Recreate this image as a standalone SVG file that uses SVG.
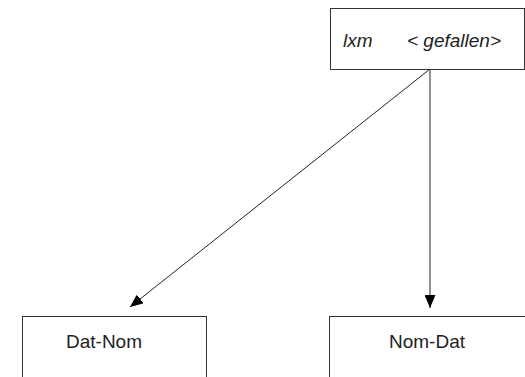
<svg xmlns="http://www.w3.org/2000/svg" width="525" height="377" viewBox="0 0 525 377">
<style>
.box{fill:#fff;stroke:#333;stroke-width:1}
.t{font-family:"Liberation Sans",Arial,sans-serif;font-size:19px;fill:#222}
.i{font-style:italic}
.c{stroke:#222;stroke-width:1;fill:none}
</style>
<defs>
<marker id="ah" markerWidth="13" markerHeight="11" refX="13" refY="5.5" orient="auto" markerUnits="userSpaceOnUse">
<path d="M0,0 L13,5.5 L0,11 Z" fill="#000"/>
</marker>
</defs>
<rect width="525" height="377" fill="#fff"/>
<g id="connectors">
<line class="c" x1="430" y1="69" x2="130" y2="307" marker-end="url(#ah)"/>
<line class="c" x1="430" y1="69" x2="430" y2="308" marker-end="url(#ah)"/>
</g>
<g id="top">
<rect class="box" x="330.5" y="8.5" width="194" height="61"/>
<text class="t i" x="343" y="47">lxm</text>
<text class="t i" x="407" y="47">&lt; gefallen&gt;</text>
</g>
<g id="datnom">
<rect class="box" x="22.5" y="316.5" width="184" height="70"/>
<text class="t" x="104" y="348" text-anchor="middle">Dat-Nom</text>
</g>
<g id="nomdat">
<rect class="box" x="329.5" y="316.5" width="200" height="70"/>
<text class="t" x="427" y="348" text-anchor="middle">Nom-Dat</text>
</g>
</svg>
